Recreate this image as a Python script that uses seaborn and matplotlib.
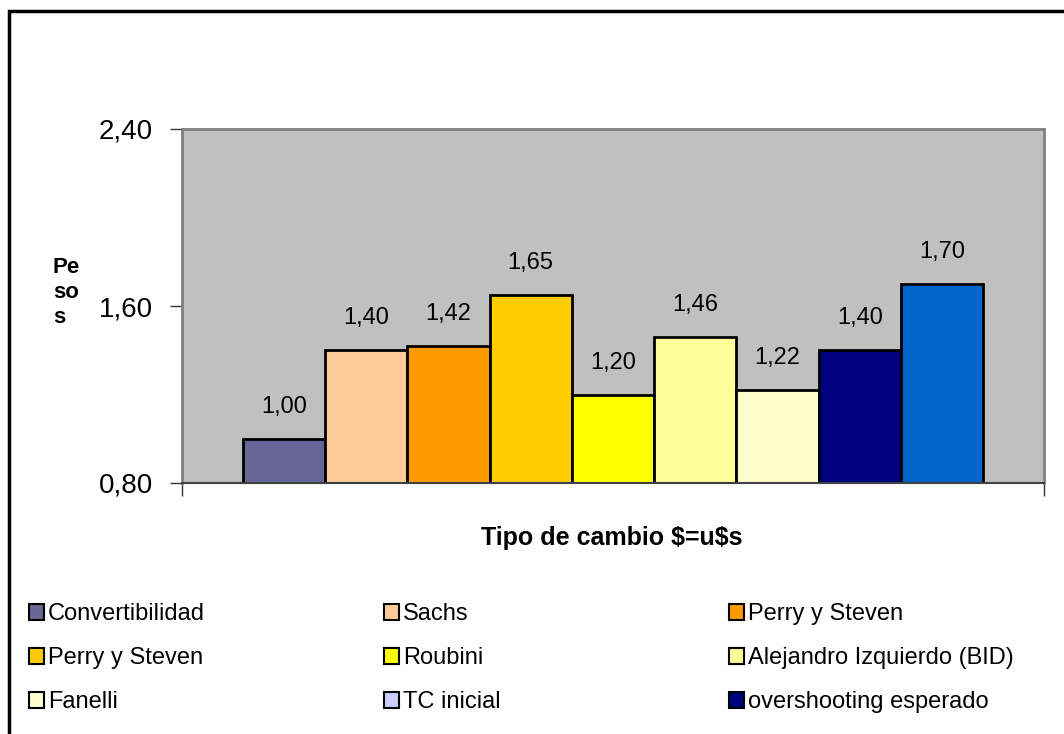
import matplotlib
matplotlib.use("Agg")
import matplotlib.pyplot as plt
import matplotlib.patches as mpatches
import seaborn as sns

# bars, in drawing order
bar_names = ["Convertibilidad", "Sachs", "Perry y Steven", "Perry y Steven 2", "Roubini",
             "Alejandro Izquierdo (BID)", "Fanelli", "overshooting esperado", "sin leyenda"]
bar_values = [1.00, 1.40, 1.42, 1.65, 1.20, 1.46, 1.22, 1.40, 1.70]
bar_colors = ["#666699", "#FFCC99", "#FF9900", "#FFCC00", "#FFFF00",
              "#FFFF99", "#FFFFCC", "#000080", "#0066CC"]

# legend entries, one list per legend column
legend_cols = [
    ["Convertibilidad", "Perry y Steven", "Fanelli"],
    ["Sachs", "Roubini", "TC inicial"],
    ["Perry y Steven", "Alejandro Izquierdo (BID)", "overshooting esperado"],
]
legend_colors = [
    ["#666699", "#FFCC00", "#FFFFCC"],
    ["#FFCC99", "#FFFF00", "#CCCCFF"],
    ["#FF9900", "#FFFF99", "#000080"],
]

y_ticks = [0.80, 1.60, 2.40]

sns.set_style("white")
plt.rcParams["font.family"] = ["Liberation Sans", "DejaVu Sans"]
plt.rcParams["text.color"] = "black"
plt.rcParams["ytick.labelcolor"] = "black"

W, H = 1064, 734
fig = plt.figure(figsize=(W / 100, H / 100), dpi=100)
ax = fig.add_axes([182 / W, 1 - 483 / H, (1044 - 182) / W, (483 - 129) / H])

sns.barplot(x=bar_names, y=bar_values, hue=bar_names, palette=bar_colors, saturation=1,
            width=1.0, edgecolor="black", linewidth=2, legend=False, ax=ax)

for cont in ax.containers:
    ax.bar_label(cont, labels=[f"{v:.2f}".replace(".", ",") for v in cont.datavalues],
                 padding=15, fontsize=17, color="black")

ax.set_facecolor("#C0C0C0")
ax.set_ylim(0.80, 2.40)
ax.set_xlim(-1.24, len(bar_values) - 1 + 1.24)
ax.set_yticks(y_ticks)
ax.set_yticklabels([f"{t:.2f}".replace(".", ",") for t in y_ticks], fontsize=20)
ax.set_xticks([-1.24, len(bar_values) - 1 + 1.24])
ax.set_xticklabels(["", ""])
ax.tick_params(axis="both", direction="out", length=9, width=1, color="#333333",
               left=True, bottom=True, pad=3)
ax.tick_params(axis="y", pad=12)
for side in ["left", "right", "top"]:
    ax.spines[side].set_color("#808080")
    ax.spines[side].set_linewidth(2)
ax.spines["bottom"].set_color("#404040")
ax.spines["bottom"].set_linewidth(1.5)
ax.set_xlabel("")
ax.set_ylabel("")

fig.text(53 / W, 1 - 293 / H, "Pe\nso\ns", fontsize=16, fontweight="bold",
         ha="left", va="center", linespacing=1.25)
fig.text(612 / W, 1 - 538 / H, r"Tipo de cambio \$=u\$s", fontsize=18,
         fontweight="bold", ha="center", va="center")

# outer frame of the chart
fig.patches.append(mpatches.Rectangle((9 / W, -0.2), 1.2, 1.2 - 11 / H,
                                      transform=fig.transFigure, fill=False,
                                      edgecolor="black", linewidth=2.5))

col_x = [29 / W, 384 / W, 729 / W]
for x0, names, cols in zip(col_x, legend_cols, legend_colors):
    handles = [mpatches.Patch(facecolor=c, edgecolor="black", linewidth=1.5, label=n)
               for n, c in zip(names, cols)]
    fig.legend(handles=handles, loc="upper left", bbox_to_anchor=(x0, 1 - 603 / H),
               frameon=False, fontsize=17, handlelength=0.65, handleheight=0.65,
               handletextpad=0.15, labelspacing=0.93, borderaxespad=0, borderpad=0)

fig.savefig("out.png", dpi=100)
